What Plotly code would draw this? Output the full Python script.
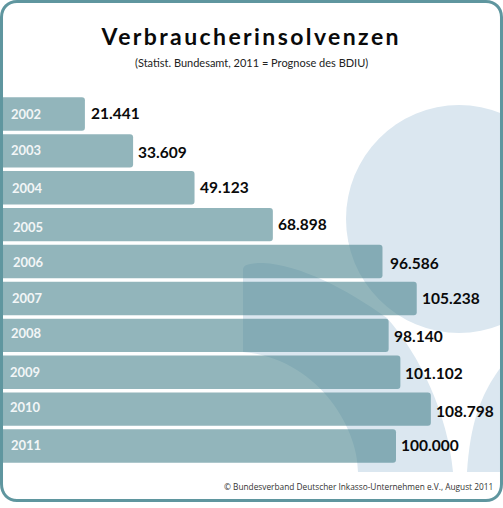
import plotly.graph_objects as go

# Data
years = ['2002', '2003', '2004', '2005', '2006', '2007', '2008', '2009', '2010', '2011']
insolvencies = [21441, 33609, 49123, 68898, 96586, 105238, 98140, 101102, 108798, 100000]

title = 'Verbraucherinsolvenzen'
subtitle = '(Statist. Bundesamt, 2011 = Prognose des BDIU)'
source = '© Bundesverband Deutscher Inkasso-Unternehmen e.V., August 2011'

W, H = 503, 508
BLOB = '#dbe7f0'
BAR = 'rgba(73,132,142,0.6)'
FRAME = '#5f969f'

# the labels in the original are placed by hand, so they wobble a little
year_dx = [8.5, 8.5, 9.5, 10.5, 10.5, 9.5, 8.5, 7.5, 7.5, 8.5]
year_dy = [0, 1, 0, -2, 0, 0, 2, 0, 2, 1]
value_dx = [4, 3, 3.5, 3, 5.5, 3.5, 3.5, 2.5, 3.5, 3]
value_dy = [1, -1, 1, 1, -1.5, 0.5, -0.5, -1, -2, 1]


def px(x, y):
    # pixel position on the page -> paper coordinates
    return f'{x / W:.4f},{1 - y / H:.4f}'


def path(cmds):
    out = []
    for c in cmds:
        pts = ' '.join(px(*p) for p in c[1:])
        out.append(c[0] + pts)
    return ' '.join(out) + ' Z'


# left shoulder of the background figure
shoulder = path([
    ('M', (243, 352)), ('L', (243, 270)),
    ('C', (243, 265), (248, 263), (263, 263)),
    ('C', (300, 265), (345, 288), (387, 318)),
    ('C', (420, 355), (448, 415), (453, 472)),
    ('L', (358, 472)),
    ('C', (358, 425), (315, 358), (243, 352)),
])
# right shoulder
shoulder_r = path([
    ('M', (467, 472)),
    ('C', (470, 425), (480, 395), (501, 367)),
    ('L', (501, 472)),
])
frame = path([
    ('M', (1.5, 17)),
    ('C', (1.5, 8), (8, 1.5), (17, 1.5)),
    ('L', (486, 1.5)),
    ('C', (495, 1.5), (501.5, 8), (501.5, 17)),
    ('L', (501.5, 484)),
    ('C', (501.5, 494), (495, 500.5), (486, 500.5)),
    ('L', (17, 500.5)),
    ('C', (8, 500.5), (1.5, 494), (1.5, 484)),
])

shapes = [
    dict(type='circle', xref='paper', yref='paper', layer='below', fillcolor=BLOB, line_width=0,
         x0=346 / W, x1=572 / W, y0=1 - 333 / H, y1=1 - 105 / H),
    dict(type='path', path=shoulder, xref='paper', yref='paper', layer='below', fillcolor=BLOB, line_width=0),
    dict(type='path', path=shoulder_r, xref='paper', yref='paper', layer='below', fillcolor=BLOB, line_width=0),
    dict(type='path', path=frame, xref='paper', yref='paper', layer='above', line=dict(color=FRAME, width=3)),
]

fig = go.Figure(go.Bar(
    x=insolvencies,
    y=years,
    orientation='h',
    marker=dict(color=BAR, line_width=0),
    hoverinfo='skip',
))

annotations = [
    dict(text=title, xref='paper', yref='paper', x=251 / W, y=1 - 36 / H, yanchor='middle', showarrow=False,
         font=dict(family='Lato', size=23, color='#0a0a0a', weight='bold')),
    dict(text=subtitle, xref='paper', yref='paper', x=251.5 / W, y=1 - 62 / H, yanchor='middle', showarrow=False,
         font=dict(family='Lato', size=11, color='#222222')),
    dict(text=source, xref='paper', yref='paper', x=495 / W, y=1 - 486 / H, xanchor='right', yanchor='middle',
         showarrow=False, font=dict(family='Open Sans', size=8.3, color='#333333')),
]
for i, (year, value) in enumerate(zip(years, insolvencies)):
    # the y axis reads '2002' as a number here, so go by category index
    annotations.append(dict(
        text=year, xref='x', yref='y', x=0, y=i, xanchor='left', yanchor='middle',
        xshift=year_dx[i], yshift=year_dy[i], showarrow=False,
        font=dict(family='Lato', size=13, color='#f2f6f7', weight='bold'),
    ))
    annotations.append(dict(
        text=f'{value:,}'.replace(',', '.'), xref='x', yref='y', x=value, y=i, xanchor='left', yanchor='middle',
        xshift=value_dx[i], yshift=value_dy[i], showarrow=False,
        font=dict(family='Lato', size=15.5, color='#0a0a0a', weight='bold'),
    ))

fig.update_layout(
    width=W,
    height=H,
    margin=dict(l=0, r=0, t=0, b=0),
    paper_bgcolor='white',
    plot_bgcolor='rgba(0,0,0,0)',
    showlegend=False,
    bargap=0.095,
    barcornerradius=3,
    shapes=shapes,
    annotations=annotations,
    xaxis=dict(visible=False, range=[0, 127020]),
    yaxis=dict(visible=False, type='category', range=[10.68, -3.089]),
)

# no page margin, and the wide tracking of the title
post = """
document.body.style.margin = '0';
document.documentElement.style.overflow = 'hidden';
document.querySelectorAll('.annotation-text').forEach(function (t) {
    if (t.textContent === 'Verbraucherinsolvenzen') { t.style.letterSpacing = '2.4px'; }
});
"""
fig.write_html('out.html', config=dict(displayModeBar=False), post_script=post)
